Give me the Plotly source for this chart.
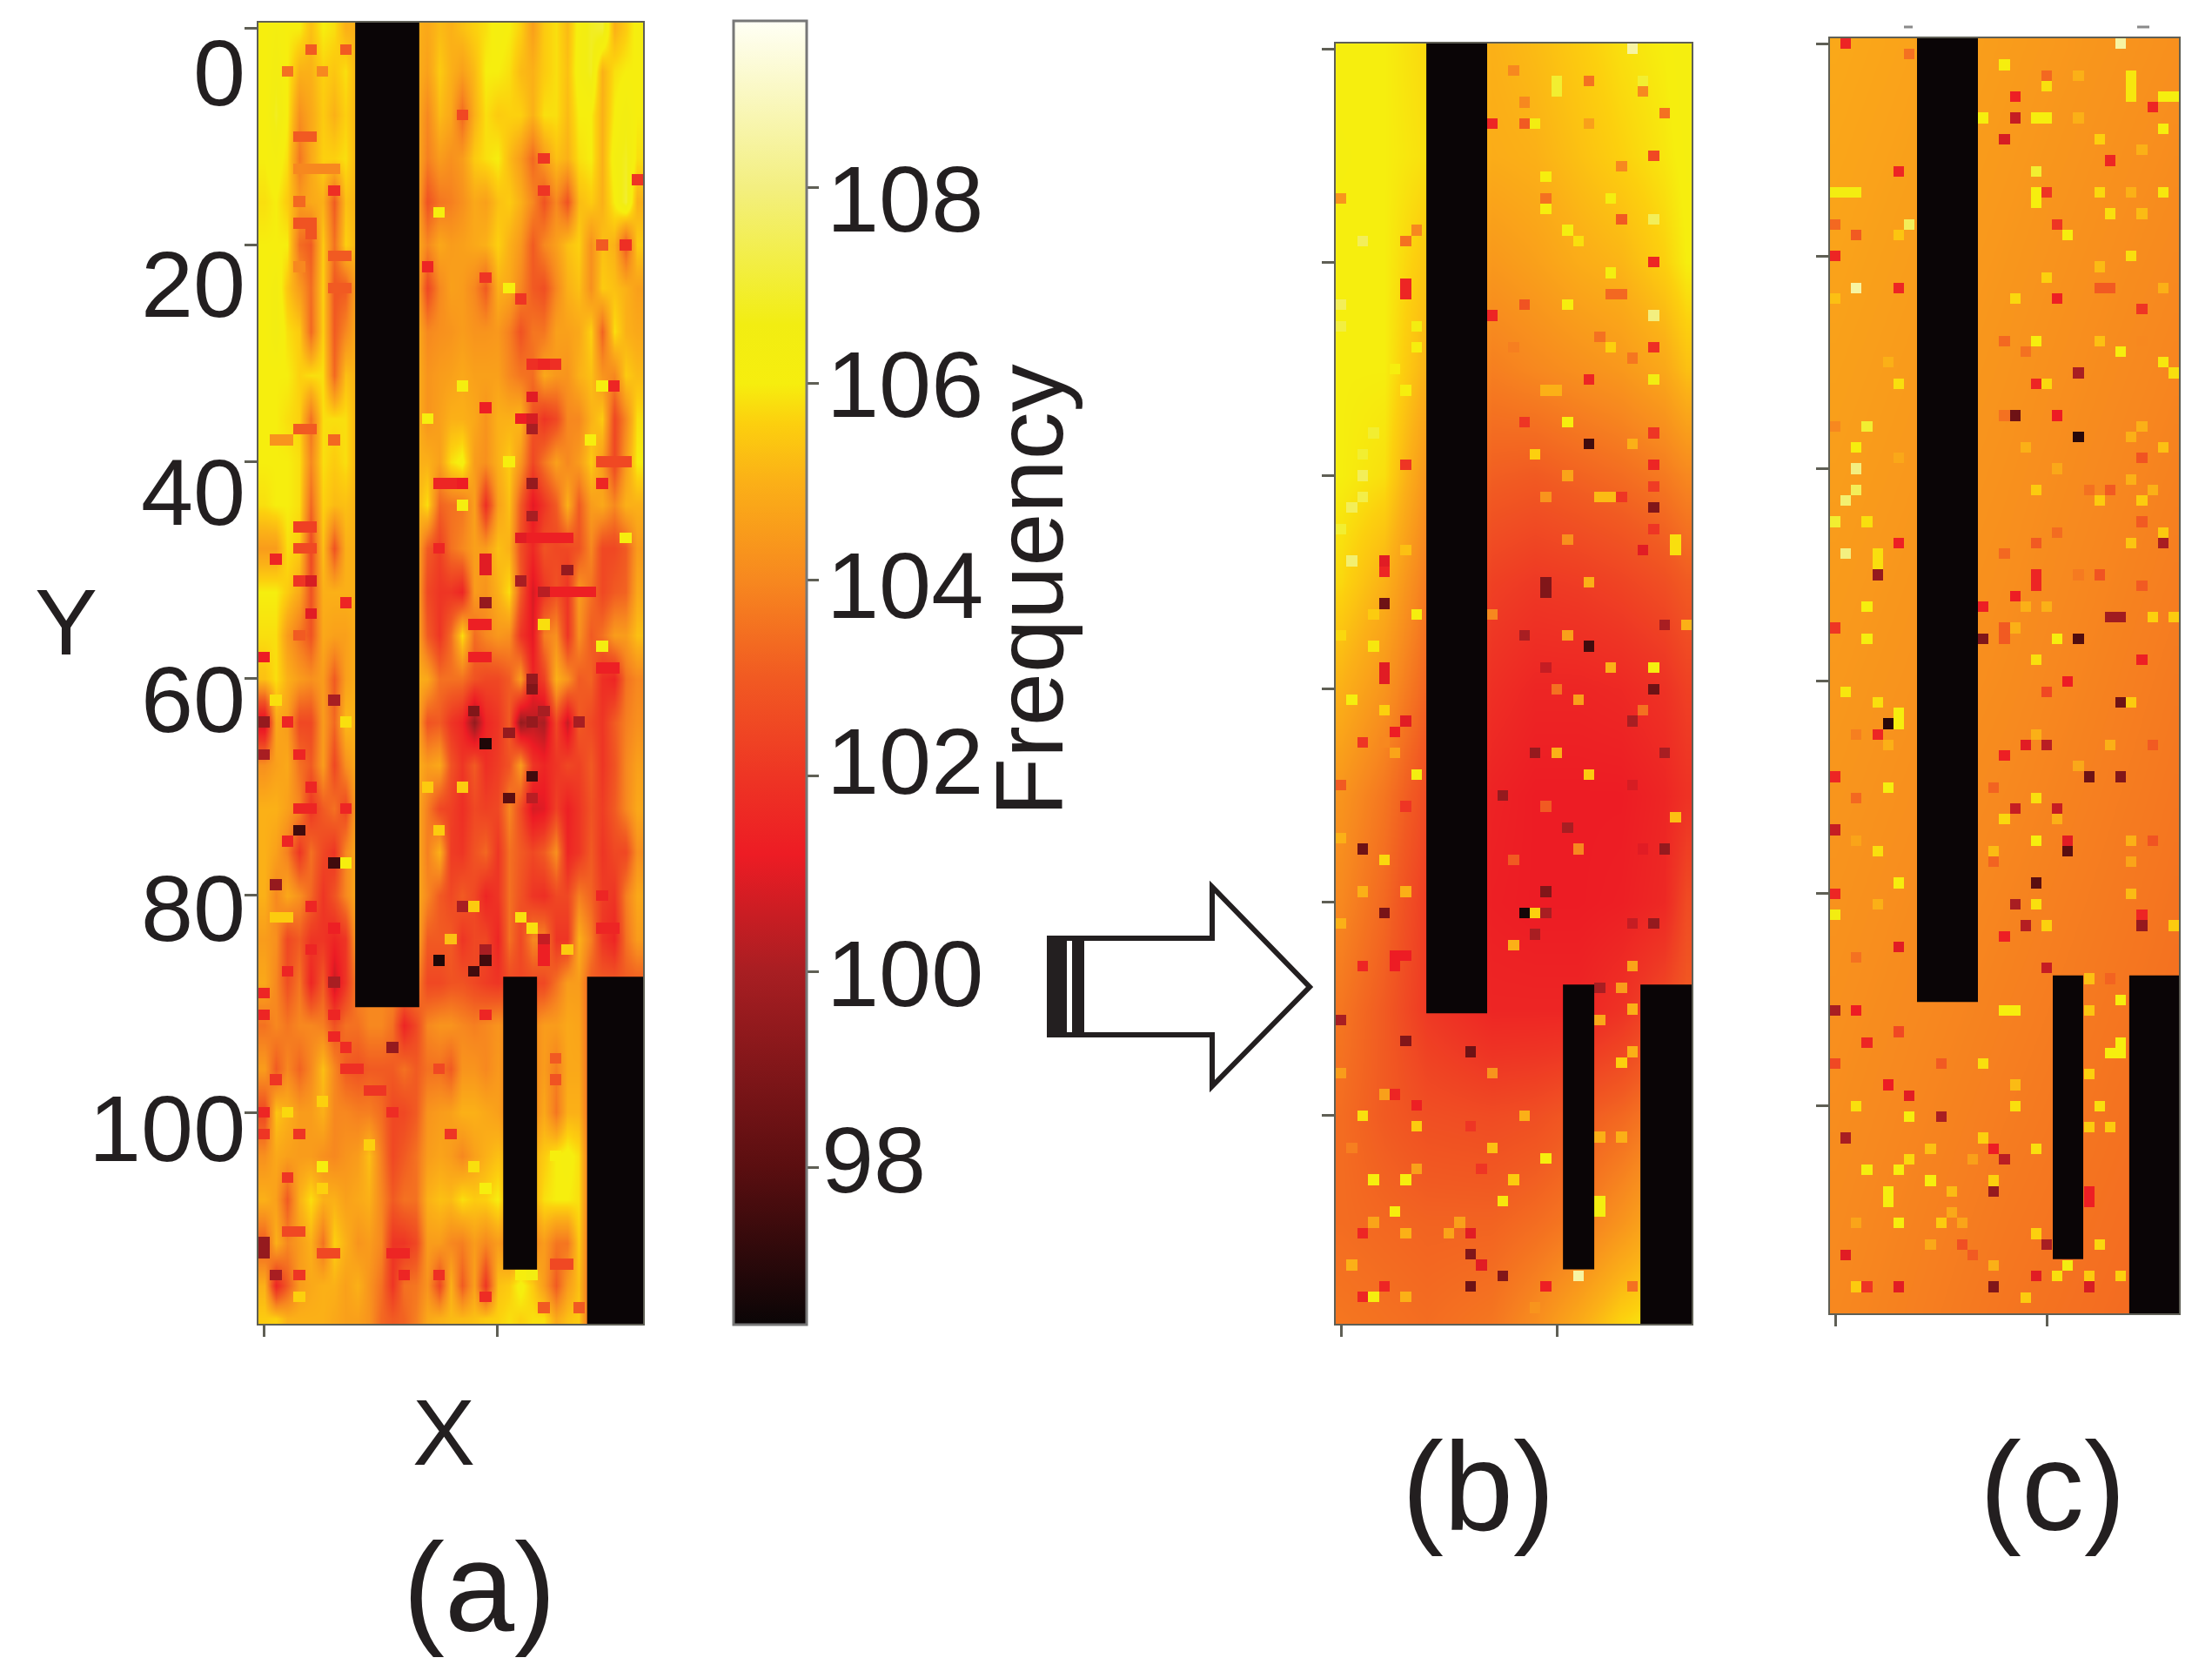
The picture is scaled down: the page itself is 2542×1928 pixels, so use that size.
import plotly.graph_objects as go

W, H = 2542, 1928
BODY_MARGIN = 8  # the page adds this around the figure
INK = "#231f20"
FRAME = "#5f5f55"
BLACK = "#0a0506"
FONT = "Liberation Sans"

# Colour bar stops: (frequency, colour)
CMIN, CMAX = 96.4, 109.7
COLOR_STOPS = [
    (96.4, "#0a0506"), (98.0, "#5a0e10"), (100.0, "#a81e22"), (101.2, "#ed1c24"),
    (102.0, "#ee3524"), (103.0, "#f15a22"), (104.0, "#f7881f"), (105.0, "#fbb017"),
    (105.6, "#fcd00e"), (106.0, "#f6ee0e"), (106.6, "#f2ed12"), (108.0, "#f3ef80"),
    (109.7, "#fffff5"),
]
CBAR_TICKS = [98, 100, 102, 104, 106, 108]
CBAR_LABEL_X = [942, 948, 948, 948, 948, 948]
CBAR_LABEL_Y = [1332, 1118, 874, 672, 441, 228]

Y_TICKS = [0, 20, 40, 60, 80, 100]
X_TICKS = [0, 20]
Y_LABEL_POS = [4.1, 23.6, 42.8, 61.9, 81.2, 101.5]

# Panel (a): measured frequency, one row every 4 Y steps, 33 columns
A_X = list(range(33))
A_Y = [0, 4, 8, 12, 16, 20, 24, 28, 32, 36, 40, 44, 48, 52, 56, 60, 64, 68, 72, 76, 80, 84, 88, 92, 96, 100, 104, 108, 112, 116, 119]
A_Z = [
    [106,106.3,106,106,105.3,106,105.8,105, 105,105,105,105,105,105, 104.8,105.2,105,105.3,105.6,105.8,106.2,106,105.6,104.6,105.5,105.8,105.2,106.2,106.8,107,105,105.5,106.2],
    [106,106.5,106,105,105,105.6,105.4,105.8, 105,105,105,105,105,105, 104.6,105.5,105,104.6,105.2,106,106,105.8,105.2,105,105.5,105.8,105.3,106.3,106.8,105,105.8,106,106],
    [106,106.8,106,104.2,104.8,105.5,105,105.6, 105,105,105,105,105,105, 104,105.2,104.8,103.3,105,105.8,105.5,105.6,105.6,105,105.8,105.8,105.2,106,106,105,106,106.5,106],
    [106,106.3,105.8,103.6,104.8,105.6,105.6,105.8, 105,105,105,105,105,105, 103.8,104.5,104.2,104.5,105.5,105.8,106,105.2,104.5,103.3,104.5,105.3,105,105.8,106,105,106.3,106.8,105.8],
    [105.8,106,105.5,104.5,104.8,105,103,105.3, 105,105,105,105,105,105, 102.8,103.6,103.8,104.2,104.8,104.6,105.3,105.5,105,104,102.8,104,102.8,105.2,105.5,105,106,107,105],
    [106,106,106,103.4,103,105.5,103.5,105.6, 105,105,105,105,105,105, 104,104.8,104.5,104.6,104.8,105,105.6,105,104.4,103,104,104.6,105.3,105.6,104.2,105.3,105,103,105.5],
    [106,106.5,105.4,104.5,103.4,105.6,102.9,103, 105,105,105,105,105,105, 102.5,104,104.6,104.5,104,103,105,104.8,104,103,102.7,104,105,105.3,104.2,105.5,105.3,105,104.6],
    [106,106.6,105.8,105.5,103.3,105.6,103,104, 105,105,105,105,105,105, 104,104.2,104.3,104.5,104.3,104.3,104.4,103.8,102.8,103.6,103.6,104.6,104.6,104.8,105.6,103.2,105.8,105,104.8],
    [106,106,106,105.6,105.8,105.8,103.3,105.3, 105,105,105,105,105,105, 104.3,104.5,104.6,104.8,104.6,104.6,104.6,104,103.6,103.4,104.8,104.4,104.3,105,105.3,104.3,104,105.5,105.2],
    [106,106,105.8,105.6,103.5,105.8,105.8,105.8, 105,105,105,105,105,105, 104.3,104.6,105,105,104.8,104.3,105,105,105.2,102.8,102,102.5,104,104,105,105.5,102.5,104,105.8],
    [106,106,106,105.8,104,105.8,105.5,105.8, 105,105,105,105,105,105, 105,104.6,105.8,106.2,104.5,104.2,105,105.5,104.4,102.5,103.6,104.6,104,104.5,105.5,104.5,102.5,104.5,106],
    [105.8,106,106,105.8,103.3,105.6,105.2,105.3, 105,105,105,105,105,105, 105.8,103.2,103.5,103.6,104.6,101.8,104.6,105.3,103,101,102,103,105,103,104.5,104.8,104,105,105],
    [104.5,104.5,105.8,105.5,102.5,105.3,102.8,105, 105,105,105,105,105,105, 103,102.3,103.5,104,104.6,104.5,105.3,105,102.7,101.6,102.8,102.5,102.5,102.8,104,102.5,102.5,103,104.5],
    [106,106,105.5,104.8,102.8,105,105,105, 105,105,105,105,105,105, 102.5,102,102,101.5,104.5,104.3,105,105.8,103,100.8,102,102.8,102,104.5,103.5,102.5,103,103.2,104.8],
    [105.8,105.8,104.5,103.6,102.8,104.8,104.6,104.6, 105,105,105,105,105,105, 103,102,103.4,105.8,103.4,104,104.4,104.2,102,101,103.8,104.2,102,104.2,103,103.5,104.5,104.5,105.3],
    [105.3,105.8,105,104.5,104.2,104.5,103,104.6, 105,105,105,105,105,105, 104.8,103.5,103.5,103.5,102.8,102.5,102.5,103,104.5,101.5,102.3,105,104.3,103,103.2,101.8,101.5,103.5,104],
    [100.5,104.8,104.5,102.5,102.5,104.5,103.3,105.2, 105,105,105,105,105,105, 102.8,103,102,101.5,99.5,101.5,102,103,99.5,100.3,100,102.5,100.5,103,102.5,102,103,103.8,104.2],
    [104.2,104.6,104.8,103.5,103,104.5,102.5,104.2, 105,105,105,105,105,105, 104.5,104.8,102.8,102,103,101.8,102.2,102.8,104.5,102,101.5,102,102.5,102.3,103,102,102.8,104,104.6],
    [105,105,104.6,104,102,103,103.5,102.5, 105,105,105,105,105,105, 103.8,102.5,102.3,101.8,102.5,102.3,102.5,104,102.6,100.8,101,102.3,101.3,102,102.8,102.2,103,104,104.8],
    [105,104.6,103.8,102,103.5,102.5,102,104, 105,105,105,105,105,105, 103.8,105,102.2,102,102.8,103.3,102,103.5,103,102.5,103,104.2,101.5,102,103,102,102.5,102.5,104.2],
    [105,104,104.8,104.2,103.3,102,102.8,104, 105,105,105,105,105,105, 104,103,102.5,103,102.5,101.5,102,103.5,102.8,102,101.8,102.5,102.5,103.8,103.2,102.2,102,103.8,104.8],
    [104.5,104.2,102.5,103,102,102,101.5,102, 105,105,105,105,105,105, 103,103,103,102,102.5,102.5,101.5,103.5,102.5,104,104,102,102,105,103.8,102,101.5,103.5,104.5],
    [104.8,104,102.7,103.6,101.5,103,100.5,102, 104,104,104,104,104,104, 102.5,102.5,102.8,102.8,102.5,102.2,102,102.5,102.5,102.5,102.5,103.5,104.5,104.5,103,103,103,103,103],
    [103.5,104,103.6,104,104,103.8,102.8,103.5, 103.5,104,104,103.5,101.5,102.5, 104,104.3,104.3,104,103.8,104,104.3,104,104,104,104.5,104.5,104.8,104.7,103,103,103,103,103],
    [104.5,103,104,103.2,104,105.3,104,103, 102.8,103,103,103,103.5,103, 103.5,103.5,103,104.3,104.3,104,104.4,104,104,104,104.5,103.8,104.8,104.8,103,103,103,103,103],
    [102.5,105.4,105,104.5,104.5,105,104,104, 103.8,103.8,103.4,102.5,102.5,103, 104.3,104.5,104.6,105,105,104.8,104.6,104,104,104,104.8,103.6,105,105,103,103,103,103,103],
    [104.2,104.8,104.6,104.5,104.5,104.2,104,104.3, 104.5,105.3,103.8,102.5,103,103.5, 104.5,104.7,104.5,104,104.6,105,105.3,105,105,105,105.5,106,106.2,105.8,103,103,103,103,103],
    [105,104.6,103,105,105.8,105,105,104.6, 104.8,105,104,103,103.5,103.5, 105,105.3,105.2,105.8,105.5,105.6,106,105,105,105,105.8,106,106,105.8,103,103,103,103,103],
    [103,105,104,104.5,105,103.5,105.6,105, 104.3,104.5,104,102,102,102.5, 104.5,104.5,104,103.8,104.5,104,104.5,104,104,104,104.5,103.6,103.6,105.5,103,103,103,103,103],
    [105,101.5,103,104.5,104.8,105,105,104.6, 105,104.3,103.5,102,103.5,103.6, 104.3,102.5,105,103,104.6,102,105.3,105.5,106.2,105.5,104.5,103,104.5,105.3,103,103,103,103,103],
    [105.5,105.6,105,105,105,105,104.8,104.6, 104.6,104.3,103.3,103,103.2,103.8, 104.8,105,105.2,105.2,105.3,105.5,105.6,105.8,105.6,105.8,105.8,104.8,105.3,105.5,103,103,103,103,103],
]
# single cells of (a) that stand out: (column, row, frequency)
A_SPOTS = [
    (0,64,99.5),(0,67,100),(6,62,100),(3,74,97.5),(6,77,97.5),(7,77,106),(1,79,99.5),(6,88,100),
    (19,66,96.8),(18,63,99),(21,65,99.5),(23,64,99.5),(24,63,100),(27,64,100),(23,61,99),(23,69,97.5),
    (21,71,98),(23,71,100.3),(15,86,96.8),(19,86,97.5),(19,85,100),(18,87,97.5),(17,81,100),(18,81,105.5),
    (11,94,99.5),(0,112,99.5),(0,113,99.5),(1,115,100),(24,84,100.5),(23,37,100),(23,42,99.5),(23,45,100),
    (26,50,99.5),(19,53,99.5),(22,51,100),(24,52,100.3),(23,60,99.5),(1,49,101.5),(0,58,101.2),(4,51,100.8),
    (4,54,101),(7,53,101.5),(6,15,101.8),(17,44,106.2),(17,33,106.2),(15,17,106),(29,57,106.3),(19,35,101.3),
    (4,2,103),(7,2,103),(17,8,102.5),(32,14,102),(31,20,101.8),(29,20,103),(24,15,102),(24,12,102),
    (14,22,101.5),(19,23,102),(22,25,102),(24,31,101.5),(30,33,101.5),
    # dashes on the left part
    (3,10,103),(4,10,103),(2,4,103.5),(5,4,104),(3,13,104),(4,13,104),(5,13,104),(6,13,104),(3,16,103.3),
    (3,18,102.8),(4,18,102.8),(4,19,102.8),(6,21,103),(7,21,103),(6,24,103),(7,24,103),(3,22,104),(1,38,104.3),
    (2,38,104.3),(6,38,103.3),(3,37,103),(4,37,103),(3,46,102.3),(4,46,102.3),(3,48,102.5),(4,48,102.5),(3,51,102),(3,56,103),
    # upper right part
    (23,31,101.8),(25,31,101.8),(23,34,101),(22,36,101.2),(23,36,100.8),(23,47,101.3),(24,47,101.3),(25,47,101.3),
    (26,47,101.3),(22,47,101),(25,52,101.3),(26,52,101.3),(27,52,101.3),(28,52,101.3),(29,40,102.5),(30,40,102.5),
    (31,40,102.5),(29,42,101.5),(15,42,101.5),(16,42,101.5),(17,42,101.2),(15,48,101.5),(19,49,101),(19,50,101),
    (18,55,101.3),(19,55,101.3),(18,58,101.3),(19,58,101.3),(29,59,101.3),(30,59,101.3),(31,47,106),(28,38,106),
    (24,55,105.8),(14,36,106),(21,40,106),(21,24,106),(29,33,106),
    # lower part, bright cells
    (7,64,105.8),(14,70,105.5),(17,70,105.5),(15,74,105.5),(22,82,105.8),(23,83,105.8),(26,85,105.5),(16,84,105.3),
    (1,82,105.5),(2,82,105.5),(1,62,105.8),(5,99,105.6),(2,100,105.7),(5,105,106),(19,107,106),(18,105,105.8),
    (25,104,106),(23,115,106.5),(22,115,106),(3,117,105.6),(9,103,105.6),(5,107,105.6),
    # lower part, red cells
    (2,64,101.5),(3,67,101.5),(4,70,101.5),(3,72,101.5),(4,72,101.5),(7,72,101.5),(2,75,101.5),(4,81,101.5),
    (6,83,101.3),(4,85,101.5),(2,87,101.5),(0,89,101.5),(0,91,101.5),(6,91,101.5),(6,93,101.5),(7,94,101.7),
    (7,96,101.8),(8,96,101.8),(1,97,102),(9,98,102),(10,98,102),(11,100,101.7),(0,100,101.5),(0,102,102),(3,102,102),
    (16,102,102),(2,106,102),(2,111,102.5),(3,111,102.5),(5,113,102.5),(6,113,102.5),(11,113,101.5),(12,113,101.5),
    (12,115,101.5),(15,115,101.8),(19,117,101.7),(24,118,103),(27,118,103),(3,115,102),(19,91,101.5),(15,96,102.5),
    (25,95,103),(25,97,102.8),(25,114,102.5),(26,114,102.5),(24,86,101.3),(24,85,101.3),(29,80,101.5),(29,83,101.5),(30,83,101.5),
]

# Panel (b): fitted background, coarse read-off
B_X = [0, 4, 8, 14, 18, 22, 26, 30, 32]
B_Y = [0, 10, 20, 30, 40, 50, 60, 70, 80, 90, 100, 110, 119]
B_Z = [
    [106,106,105.7,105,105.2,105.5,105.8,106,106.2],
    [106.1,106,105.8,104.9,105,105.3,105.6,105.9,106.1],
    [106,106,105.4,104.4,104.6,104.9,105.1,105.6,106],
    [106,106,105,103.8,104,104.2,104.4,104.8,105.3],
    [106,105.8,104.3,103.1,103,103.2,103.4,103.7,104],
    [105.7,105,103.7,102.3,102.1,102.2,102.4,102.7,103],
    [105,104.3,103.2,101.8,101.5,101.5,101.6,101.9,102.3],
    [104.3,103.6,102.6,101.4,101.2,101.2,101.2,101.5,101.9],
    [104,103.3,102.2,101.3,101.2,101.2,101.3,101.6,102.6],
    [103.6,103,102.1,101.5,101.5,101.5,101.9,102.6,103],
    [103.4,103,102.7,102.6,102.7,103,103.3,103.8,104],
    [103.4,103.3,103.2,103.2,103.4,103.7,104.3,105,105],
    [103.6,103.5,103.4,103.6,104.1,104.8,105.6,106,106],
]
B_SPOTS = [
    (27,0,108.5),(16,2,104),(20,3,107),(20,4,107),(23,3,103.5),(28,4,104),(28,3,107),(17,5,104),(30,6,103.5),
    (14,7,101.5),(17,7,103),(18,7,106.5),(23,7,104.6),(29,10,102.5),(26,11,104),(19,12,106),(0,14,104.3),
    (19,14,103.5),(25,14,106.3),(19,15,106),(26,16,103),(29,16,107.5),(7,17,104),(21,17,106.3),(22,18,105.8),
    (2,18,107.5),(6,18,103.5),(29,20,101.5),(25,21,106.3),(6,22,101.5),(6,23,101.5),(26,23,103.3),(25,23,103.3),
    (0,24,107.5),(21,24,106),(17,24,102.8),(29,25,108),(14,25,101.5),(0,26,107.2),(7,26,106.5),(24,27,103.5),
    (7,28,106),(16,28,103.8),(25,28,105.6),(29,28,101.8),(27,29,103.6),(5,30,106),(29,31,106.6),(23,31,101.5),
    (6,32,106),(19,32,105),(20,32,105),(17,35,102),(21,35,106),(3,36,107),(29,36,102),(23,37,97.5),(27,37,105),
    (2,38,107),(18,38,105.6),(6,39,102),(29,39,101.5),(2,40,107.5),(21,40,104.7),(29,41,102.2),(2,42,107.3),
    (19,42,104.3),(24,42,105.2),(25,42,105.2),(26,42,102),(1,43,107.5),(29,43,99),(0,45,107),(29,45,102),
    (21,46,104.2),(6,47,105.3),(28,47,101),(31,46,105.8),(31,47,105.8),(1,48,107.8),(4,48,101),(4,49,101.5),
    (23,50,105),(19,50,99),(19,51,99),(4,52,98.5),(3,53,105.5),(7,53,106),(14,53,104),(30,54,100),(32,54,105),
    (0,55,105.7),(17,55,100),(21,55,104.6),(3,56,105.9),(23,56,97.5),(25,58,105),(29,58,106.2),(4,58,101),
    (4,59,101),(19,58,100.5),(29,60,98.5),(20,60,103.5),(22,61,104.6),(1,61,106.2),(4,62,105.6),(28,62,103.5),
    (6,63,101),(5,64,101.2),(27,63,100),(2,65,102),(4,65,104),(5,66,104.7),(18,66,99.5),(20,66,105),(30,66,100),
    (7,68,106.3),(23,68,105.5),(0,69,103),(27,69,100.8),(15,70,99.5),(6,71,102),(19,71,103),(31,72,105.3),
    (21,73,100),(0,74,105),(2,75,98.5),(22,75,104),(30,75,99.5),(28,75,101),(4,76,105.7),(16,76,103),(2,79,105),
    (6,79,105),(19,79,99),(4,81,98.8),(17,81,96.6),(18,81,105.6),(19,81,100),(29,82,99.5),(0,82,105),(27,82,100.5),
    (18,83,100),(16,84,105),(5,85,101.2),(6,85,101.2),(5,86,101.2),(2,86,101.5),(27,86,104.7),(24,88,100),
    (26,88,104.5),(27,90,105),(24,91,104.8),(0,91,100),(6,93,99),(12,94,98.5),(27,94,105),(26,95,105.6),(0,96,104.5),
    (14,96,104.3),(4,98,104.6),(5,98,101.5),(7,99,101.3),(2,100,105.8),(17,100,105),(7,101,105.5),(12,101,102),
    (24,102,105),(26,102,105),(1,103,103.8),(14,103,105.3),(19,104,106),(7,105,104.6),(13,105,102),(16,106,105.5),
    (3,106,106),(6,106,106),(15,108,105.9),(24,108,106.3),(24,109,106.3),(5,109,106),(3,110,104.7),(11,110,104.6),
    (2,111,101.5),(6,111,105),(10,111,104.7),(12,111,101),(12,113,99),(13,114,101),(1,114,105),(15,115,99),
    (22,115,108.5),(4,116,101.5),(2,117,101.5),(3,117,106.2),(6,117,105),(12,116,98.5),(19,116,101.3),(27,116,103.5),
    (18,118,104.3),
]

# Panel (c): residual background, almost flat
C_X = [0, 16, 32]
C_Y = [0, 60, 119]
C_Z = [
    [104.8, 104.5, 104.2],
    [104.4, 104.1, 103.7],
    [104.0, 103.6, 103.3],
]
C_SPOTS = [
    (1,0,101.5),(7,1,103.5),(27,0,108.5),(16,2,106),(20,3,103.3),(23,3,105),(20,4,105.8),(28,3,105.9),(28,4,105.9),
    (28,5,105.9),(17,5,101.3),(31,5,106.2),(32,5,106.2),(30,6,101.5),(14,7,106),(17,7,100.5),(19,7,106),(20,7,106),
    (23,7,105),(31,8,106),(25,9,105.6),(16,9,100.8),(29,10,105),(26,11,101.5),(6,12,101.5),(19,12,107),(0,14,106.5),
    (1,14,106.5),(2,14,106.5),(20,14,102),(19,14,106),(19,15,106),(25,14,105.7),(28,14,105),(31,14,105.9),(26,16,105.8),
    (29,16,105.2),(0,17,103.3),(7,17,107.5),(21,17,102),(2,18,103),(6,18,105.4),(22,18,106),(0,20,101.5),(28,20,105.8),
    (25,21,105.2),(20,22,105.6),(2,23,108.5),(6,23,101.5),(25,23,103),(26,23,103),(31,23,105),(0,24,105.3),(17,24,105.7),
    (21,24,101.3),(29,25,102),(16,28,103.3),(19,28,106),(25,28,105.3),(27,29,106),(29,28,104),(18,29,103.5),(5,30,105),
    (31,30,105.9),(32,31,105.8),(23,31,100),(6,32,105.8),(19,32,101.5),(20,32,105.7),(16,35,103.5),(17,35,98.5),(21,35,101.2),
    (0,36,104),(3,36,107),(29,36,105),(23,37,97),(28,37,105),(2,38,106),(18,38,105),(31,38,105.3),(6,39,104.8),(29,39,102.8),
    (2,40,108),(21,40,104.8),(28,41,105),(2,42,107.5),(19,42,105.5),(24,42,103.5),(26,42,103),(30,42,105),(1,43,107.8),
    (25,43,105.5),(29,43,105.5),(0,45,107),(3,45,105.8),(29,45,103),(21,46,103.4),(31,46,105.5),(6,47,101.3),(19,47,103),
    (28,47,105.4),(31,47,100),(1,48,108),(4,48,105.8),(4,49,105.8),(16,48,103.3),(4,50,99.5),(19,50,101.5),(19,51,101.5),
    (23,50,103.7),(25,50,102.8),(29,51,103),(17,52,101.2),(3,53,106),(14,53,101.3),(18,53,105),(20,53,105),(26,54,99.8),
    (27,54,99.8),(30,54,105.6),(32,54,105.5),(0,55,102),(16,55,103),(16,56,103),(17,55,105),(3,56,106.2),(14,56,99),
    (21,56,106),(23,56,97.8),(19,58,105.8),(29,58,101.3),(22,60,101.2),(20,61,102.5),(1,61,105.9),(4,62,105.8),(5,64,97),
    (6,63,106),(6,64,106),(27,62,98.5),(28,62,105.5),(4,65,101.5),(2,65,103.8),(5,66,105),(18,66,101),(20,66,100.3),
    (26,66,105),(30,66,103),(19,65,105),(16,67,101.3),(23,68,104.8),(0,69,101.5),(24,69,98.5),(27,69,99),(5,70,106.2),
    (2,71,103.3),(15,70,103.2),(19,71,105.8),(17,72,100.5),(21,72,100.5),(16,73,105.7),(21,73,105),(0,74,100.5),(2,75,104.7),
    (19,75,106),(22,75,101),(22,76,98),(4,76,105.8),(28,75,105),(30,75,102.8),(15,76,105.2),(15,77,103.2),(28,77,104.7),
    (6,79,106),(19,79,98),(0,80,101.5),(28,80,105.2),(4,81,105),(17,81,100),(19,81,105.8),(0,82,106.4),(29,82,101.5),
    (29,83,99.5),(18,83,100.2),(20,83,105.6),(32,83,105.5),(16,84,101.3),(6,85,101),(2,86,103.5),(20,87,100.5),(24,88,105.3),
    (26,88,103.2),(27,90,106),(0,91,100),(2,91,101.2),(16,91,106),(17,91,106),(24,91,105.4),(6,93,102.5),(3,94,101.5),
    (26,95,106),(27,95,106),(27,94,106),(0,96,102.5),(10,96,103),(14,96,105.8),(24,97,105.6),(5,98,101.2),(17,98,105.2),
    (7,99,101),(2,100,105.8),(17,100,105.8),(25,100,105.8),(7,101,106),(10,101,100),(24,102,105.5),(26,102,105.5),(1,103,100),
    (14,103,105.6),(15,104,101.2),(9,104,105.3),(19,104,105.8),(16,105,100.3),(7,105,105.7),(13,105,104.6),(3,106,106.2),
    (6,106,106),(9,107,106),(15,107,105.6),(5,108,106.2),(5,109,106.2),(11,108,105.2),(15,108,99.5),(24,108,101.3),(24,109,101.3),
    (11,110,104.8),(2,111,104.7),(6,111,106),(10,111,105.5),(12,111,104.7),(9,113,104.8),(19,112,105.6),(12,113,102.7),
    (25,113,105.7),(20,113,100),(1,114,101),(13,114,103),(15,115,105),(22,115,106.5),(21,116,105.8),(24,116,105.5),(27,116,105.6),
    (19,116,101),(2,117,105.5),(3,117,102),(6,117,101),(15,117,99),(24,117,100.8),(18,118,105.5),
]

# Masked electrodes, (x0, x1, y0, y1) in plot units
A_MASKS = [(7.8, 13.3, -0.5, 90.3), (20.5, 23.4, 87.5, 114.5), (27.7, 32.5, 87.5, 119.5)]
B_MASKS = [(7.9, 13.54, -0.5, 90.4), (20.57, 23.47, 87.7, 114.4), (27.75, 32.5, 87.7, 119.5)]
C_MASKS = [(7.73, 13.49, -0.5, 90.2), (20.57, 23.45, 87.7, 114.4), (27.8, 32.5, 87.7, 119.5)]

FIG_W, FIG_H = W - 2 * BODY_MARGIN, H - 2 * BODY_MARGIN


def px_x(v):
    return (v - BODY_MARGIN) / FIG_W


def px_y(v):
    return 1 - (v - BODY_MARGIN) / FIG_H


def spot_grid(spots):
    grid = [[None] * 33 for _ in range(120)]
    for col, row, freq in spots:
        grid[row][col] = freq
    return grid


colorscale = [[(v - CMIN) / (CMAX - CMIN), c] for v, c in COLOR_STOPS]

fig = go.Figure()
shapes = []
annotations = []

# left, right, top, bottom of each panel in page pixels
panels = [
    ("", (297, 739, 26, 1521), A_X, A_Y, A_Z, A_SPOTS, A_MASKS),
    ("2", (1535, 1944, 50, 1521), B_X, B_Y, B_Z, B_SPOTS, B_MASKS),
    ("3", (2103, 2504, 44, 1509), C_X, C_Y, C_Z, C_SPOTS, C_MASKS),
]

for suffix, box, bx, by, bz, spots, masks in panels:
    xname, yname = "x" + suffix, "y" + suffix
    fig.add_trace(go.Heatmap(x=bx, y=by, z=bz, zsmooth="best", coloraxis="coloraxis",
                             xaxis=xname, yaxis=yname, hoverinfo="skip"))
    fig.add_trace(go.Heatmap(x=list(range(33)), y=list(range(120)), z=spot_grid(spots), zsmooth=False,
                             coloraxis="coloraxis", xaxis=xname, yaxis=yname, hoverinfo="skip"))
    for x0, x1, y0, y1 in masks:
        shapes.append(dict(type="rect", xref=xname, yref=yname, x0=x0, x1=x1, y0=y0, y1=y1,
                           fillcolor=BLACK, line_width=0, layer="above"))
    left, right, top, bottom = box
    fig.update_layout(**{
        "xaxis" + suffix: dict(domain=[px_x(left), px_x(right)], range=[-0.5, 32.5], anchor=yname,
                               tickvals=X_TICKS, showticklabels=False, ticks="outside", ticklen=13, tickwidth=3,
                               tickcolor=FRAME, showgrid=False, zeroline=False, showline=True, mirror=True,
                               linecolor=FRAME, linewidth=2),
        "yaxis" + suffix: dict(domain=[px_y(bottom), px_y(top)], range=[119.5, -0.5], anchor=xname,
                               tickvals=Y_TICKS, showticklabels=False, ticks="outside", ticklen=14, tickwidth=3,
                               tickcolor=FRAME, showgrid=False, zeroline=False, showline=True, mirror=True,
                               linecolor=FRAME, linewidth=2),
    })

# The Y labels sit a little below their ticks in the original
for tick, pos in zip(Y_TICKS, Y_LABEL_POS):
    annotations.append(dict(xref="paper", yref="y", x=px_x(284), y=pos, text=str(tick), showarrow=False,
                            xanchor="right", yanchor="middle", font=dict(family=FONT, size=108, color=INK)))

# Same for the colour bar labels
for tick, lx, ly in zip(CBAR_TICKS, CBAR_LABEL_X, CBAR_LABEL_Y):
    annotations.append(dict(xref="paper", yref="paper", x=px_x(lx), y=px_y(ly), text=str(tick), showarrow=False,
                            xanchor="left", yanchor="middle", font=dict(family=FONT, size=108, color=INK)))


def page_text(text, x, y, size, angle=0):
    annotations.append(dict(xref="paper", yref="paper", x=px_x(x), y=px_y(y), text=text, showarrow=False,
                            xanchor="center", yanchor="middle", textangle=angle,
                            font=dict(family=FONT, size=size, color=INK)))


page_text("Y", 76, 714, 108)
page_text("X", 510, 1645, 108)
page_text("Frequency", 1182, 678, 110, angle=-90)
page_text("(a)", 551, 1824, 144)
page_text("(b)", 1699, 1708, 144)
page_text("(c)", 2359, 1708, 144)


def page_path(points):
    return "M " + " L ".join(f"{px_x(x):.5f},{px_y(y):.5f}" for x, y in points) + " Z"


# Hollow arrow between (a) and (b)
shapes.append(dict(type="path", xref="paper", yref="paper",
                   path=page_path([(1206, 1078), (1393, 1078), (1393, 1019), (1505, 1134),
                                   (1393, 1248), (1393, 1189), (1206, 1189)]),
                   fillcolor="white", line=dict(color=INK, width=6)))
for x0, x1 in [(1206, 1226), (1232, 1246)]:
    shapes.append(dict(type="rect", xref="paper", yref="paper", x0=px_x(x0), x1=px_x(x1),
                       y0=px_y(1192), y1=px_y(1075), fillcolor=INK, line_width=0))

# Two stray tick marks above panel (c)
for x0, x1 in [(2188, 2198), (2456, 2470)]:
    shapes.append(dict(type="line", xref="paper", yref="paper", x0=px_x(x0), x1=px_x(x1),
                       y0=px_y(31), y1=px_y(31), line=dict(color="#8a8a8a", width=3)))

fig.update_layout(
    width=FIG_W, height=FIG_H,
    margin=dict(l=0, r=0, t=0, b=0, autoexpand=False),
    paper_bgcolor="white",
    plot_bgcolor="white",
    showlegend=False,
    shapes=shapes,
    annotations=annotations,
    coloraxis=dict(
        cmin=CMIN, cmax=CMAX, colorscale=colorscale,
        colorbar=dict(
            x=px_x(843), xanchor="left", xpad=0,
            y=px_y(24), yanchor="top", ypad=0,
            lenmode="pixels", len=1498, thicknessmode="pixels", thickness=84,
            tickvals=CBAR_TICKS, showticklabels=False, ticks="outside", ticklen=13, tickwidth=3, tickcolor=FRAME,
            outlinecolor="#777777", outlinewidth=3,
        ),
    ),
)

fig.write_html("out.html")
